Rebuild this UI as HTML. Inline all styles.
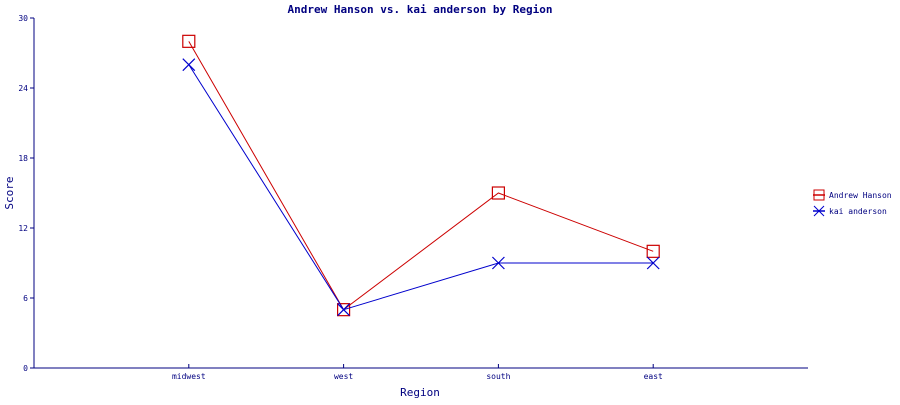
<!DOCTYPE html>
<html><head><meta charset="utf-8"><style>
html,body{margin:0;padding:0;background:#fff;}
svg text{font-family:"DejaVu Sans Mono","Liberation Mono",monospace;fill:#000080;}
</style></head><body>
<svg id="chart" width="900" height="400" xmlns="http://www.w3.org/2000/svg">
<text x="420" y="13" text-anchor="middle" font-size="11" font-weight="bold">Andrew Hanson vs. kai anderson by Region</text>
<text transform="translate(13,193) rotate(-90)" text-anchor="middle" font-size="11">Score</text>
<text x="420" y="396" text-anchor="middle" font-size="11">Region</text>
<g id="axes"></g>
<g id="series"></g>
<g>
<line x1="813" y1="195" x2="825" y2="195" stroke="#cc0000" stroke-width="1.5"/>
<rect x="814" y="190" width="10" height="10" fill="none" stroke="#cc0000" stroke-width="1"/>
<text x="829" y="198" font-size="8">Andrew Hanson</text>
<line x1="813" y1="211" x2="825" y2="211" stroke="#0000cc" stroke-width="1.5"/>
<path d="M814 206 L824 216 M824 206 L814 216" stroke="#0000cc" stroke-width="1"/>
<text x="829" y="214" font-size="8">kai anderson</text>
</g>
</svg>
<script>
const categories = ["midwest","west","south","east"];
const andrewValues = [28,5,15,10];
const kaiValues = [26,5,9,9];
const yTicks = [0,6,12,18,24,30];

const NS="http://www.w3.org/2000/svg";
const X0=34,X1=808,Y0=368,Y1=18,YMAX=30;
const xScale=i=>X0+(X1-X0)/(categories.length+1)*(i+1);
const yScale=v=>Y0-(Y0-Y1)*v/YMAX;
function mk(tag,attrs,parent,txt){const e=document.createElementNS(NS,tag);for(const k in attrs)e.setAttribute(k,attrs[k]);if(txt!==undefined)e.textContent=txt;parent.appendChild(e);return e;}
const axes=document.getElementById('axes');
let a=mk('line',{x1:X0,y1:Y1,x2:X0,y2:Y0,stroke:'#000080','stroke-width':1},axes);


a=mk('line',{x1:X0,y1:Y0,x2:X1,y2:Y0,stroke:'#000080','stroke-width':1},axes);


yTicks.forEach(v=>{
 const y=yScale(v);
 mk('line',{x1:X0-4,y1:y,x2:X0,y2:y,stroke:'#000080'},axes);
 const t=mk('text',{x:X0-6,y:y+3,'text-anchor':'end','font-size':8},axes,String(v));
 
 
});
categories.forEach((c,i)=>{
 const x=xScale(i);
 mk('line',{x1:x,y1:Y0-4,x2:x,y2:Y0,stroke:'#000080'},axes);
 const t=mk('text',{x:x,y:Y0+11,'text-anchor':'middle','font-size':8},axes,c);
 
 
});
const sg=document.getElementById('series');
function drawSeries(vals,color,marker,name){
 const pts=vals.map((v,i)=>xScale(i)+','+yScale(v)).join(' ');
 const l=mk('polyline',{points:pts,fill:'none',stroke:color,'stroke-width':1},sg);
 
 
 vals.forEach((v,i)=>{
  const x=xScale(i),y=yScale(v);let m;
  if(marker==='square') m=mk('rect',{x:x-6,y:y-6,width:12,height:12,fill:'none',stroke:color,'stroke-width':1.2},sg);
  else m=mk('path',{d:`M${x-6} ${y-6} L${x+6} ${y+6} M${x+6} ${y-6} L${x-6} ${y+6}`,stroke:color,'stroke-width':1.2},sg);
  
  
 });
}
drawSeries(andrewValues,'#cc0000','square','andrew-hanson');
drawSeries(kaiValues,'#0000cc','x','kai-anderson');
</script>
</body></html>
